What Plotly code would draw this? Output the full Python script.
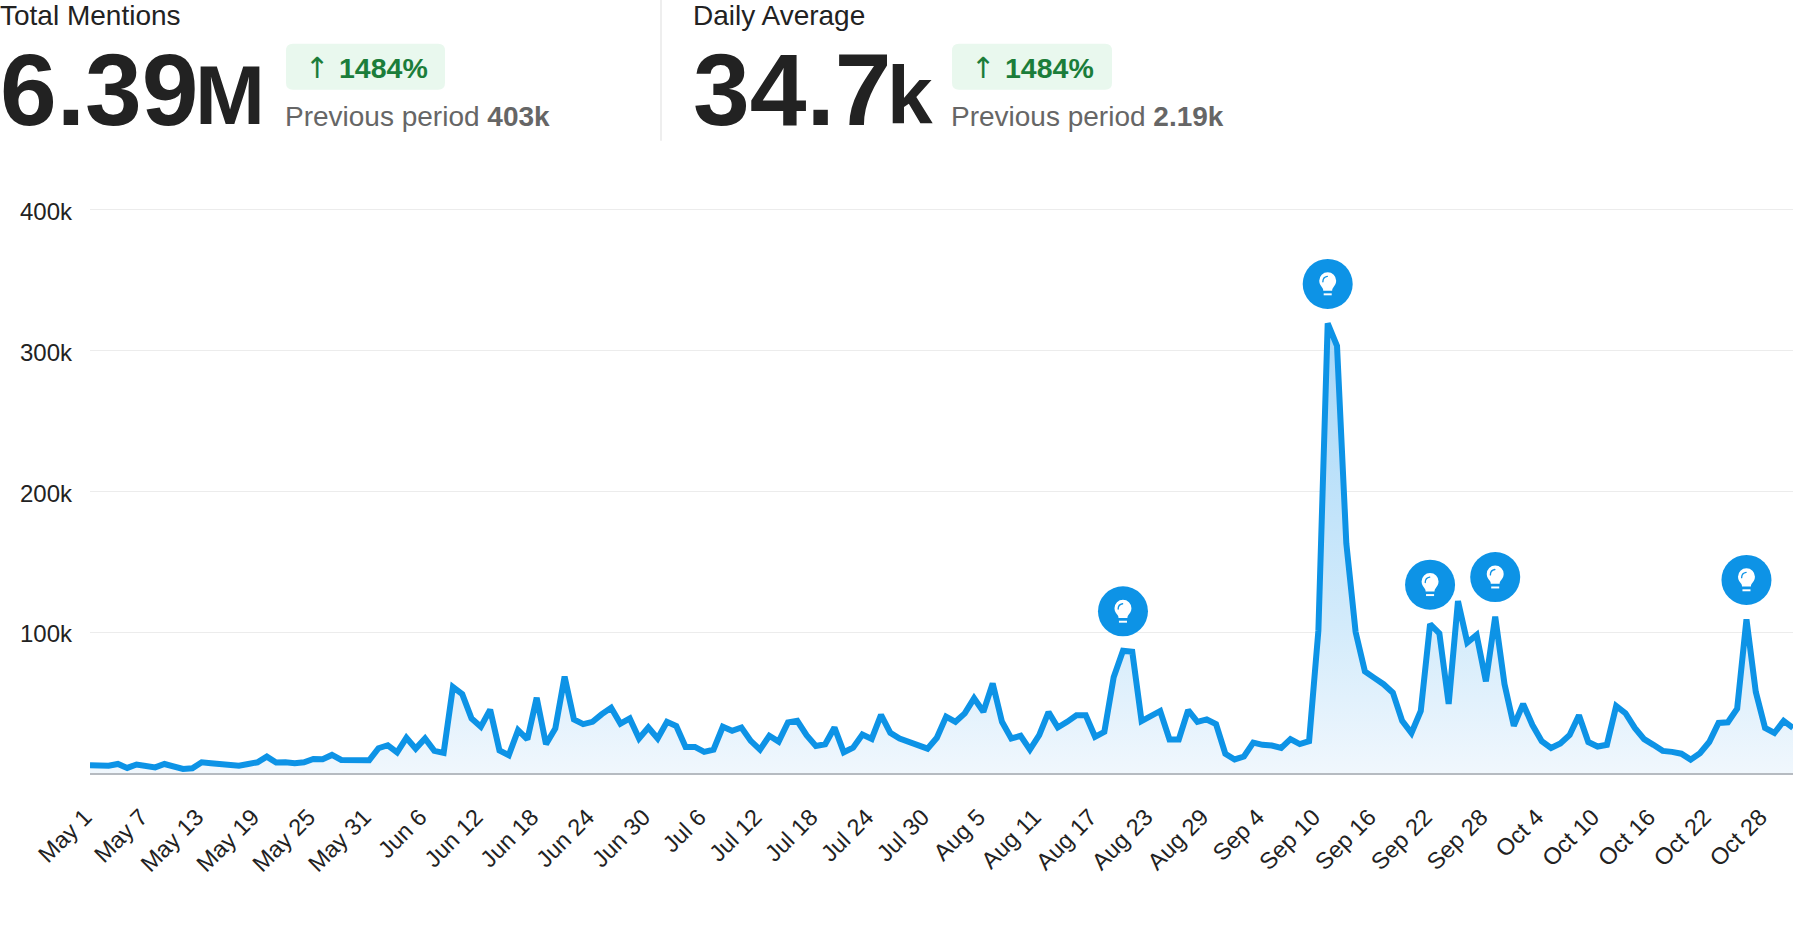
import base64
import pandas as pd
import plotly.graph_objects as go

W, H = 1812, 936
Y_TOP = 408000
L, R, B = 90, 1793, 773
T = B - 140.9 * Y_TOP / 100000

start_date = "2023-05-01"
mentions_k = [
    5.5, 5.5, 5.2, 6.4, 3.6, 6, 4.7, 4, 6.4, 5, 2.9, 3.3, 7.6, 6.9, 6.4, 5, 5.2, 6.4, 7.6, 11.6,
    7.4, 7.6, 6.9, 7.6, 10, 9.7, 12.8, 9.3, 9.5, 9.3, 9, 17.6, 19.7, 14.7, 25, 17.3, 24.5, 15.7, 14.3, 61,
    56, 38.7, 32.8, 45, 16, 12.6, 30.4, 23.8, 53.4, 20.4, 31.6, 68.4, 38, 34.7, 36.3, 41.8, 46.3, 35, 38.7, 24.5,
    32.3, 24.5, 36.3, 33.3, 18.5, 18.5, 15, 16.6, 32.8, 30, 32.3, 22.8, 16.6, 26.4, 22.3, 35.9, 37, 26.8, 19.2, 20.4,
    32.3, 14.7, 18, 27.3, 24.2, 41.3, 28.5, 24.5, 22.3, 20, 17.3, 25, 40, 36.3, 42.3, 53, 43.5, 63.6, 36.3, 24.5,
    26.4, 16.6, 26.8, 43.2, 32.3, 36.3, 41, 41, 25.7, 29.2, 68, 86.7, 86, 36.8, 40, 44, 23.8, 23.8, 44.6, 36.3,
    38, 34.7, 13.7, 9.6, 11.7, 21.6, 20, 19.5, 17.8, 24, 20.5, 22.6, 101, 319, 303, 163, 100, 72, 67.5, 63,
    57, 37, 28.4, 44, 105.6, 99, 49, 122, 92.6, 98, 65, 111, 63, 33.5, 49, 34, 22.6, 17.8, 21, 27,
    41, 22, 18.8, 20, 47.5, 42.4, 32, 24, 20, 15.7, 15, 13.7, 9.5, 14, 22, 35.5, 36, 45.7, 109, 57.6,
    32, 28.4, 37, 32,
]
tick_labels = [
    "May 1", "May 7", "May 13", "May 19", "May 25", "May 31", "Jun 6", "Jun 12", "Jun 18", "Jun 24", "Jun 30",
    "Jul 6", "Jul 12", "Jul 18", "Jul 24", "Jul 30", "Aug 5", "Aug 11", "Aug 17", "Aug 23", "Aug 29",
    "Sep 4", "Sep 10", "Sep 16", "Sep 22", "Sep 28", "Oct 4", "Oct 10", "Oct 16", "Oct 22", "Oct 28",
]
y_ticks = [100000, 200000, 300000, 400000]
y_labels = ["100k", "200k", "300k", "400k"]
event_days = ["Aug 20", "Sep 11", "Sep 22", "Sep 29", "Oct 26"]

dates = pd.date_range(start_date, periods=len(mentions_k), freq="D")
values = [v * 1000 for v in mentions_k]
to_date = lambda s: pd.to_datetime(s + " 2023", format="%b %d %Y")
tick_dates = [to_date(s) for s in tick_labels]
event_dates = [to_date(s) for s in event_days]
by_date = dict(zip(dates, values))
EVENT_LIFT = 28000
event_y = [by_date[d] + EVENT_LIFT for d in event_dates]

BLUE = "#0d93e6"
fig = go.Figure()
fig.add_trace(go.Scatter(
    x=dates, y=values, mode="lines", line=dict(color=BLUE, width=6, shape="linear"),
    fill="tozeroy",
    fillgradient=dict(type="vertical", start=0, stop=320000,
                      colorscale=[[0, "#f0f7fd"], [0.33, "#d3ebfb"], [1, "#a5d7f8"]]),
    hoverinfo="skip", showlegend=False,
))
fig.add_trace(go.Scatter(
    x=event_dates, y=event_y, mode="markers",
    marker=dict(color=BLUE, size=50, line=dict(width=0)),
    hoverinfo="skip", showlegend=False, cliponaxis=False,
))

bulb = """<svg xmlns='http://www.w3.org/2000/svg' viewBox='0 0 24 28'>
<path d='M12 1a9.5 9.5 0 0 0-9.5 9.5c0 3.6 2 5.7 3.4 7.6.9 1.2 1.1 2.4 1.1 3.4h10c0-1 .2-2.2 1.1-3.4 1.4-1.9 3.4-4 3.4-7.6A9.5 9.5 0 0 0 12 1z' fill='white'/>
<path d='M6.6 11.5c0-3.4 2.2-5.6 5-6' fill='none' stroke='#0d93e6' stroke-width='1.5' stroke-linecap='round'/>
<rect x='7.5' y='24.5' width='9' height='2.2' fill='white'/></svg>"""
uri = "data:image/svg+xml;base64," + base64.b64encode(bulb.encode()).decode()
px_day = (R - L) / (len(values) - 1)
px_val = (B - T) / Y_TOP
for d, y in zip(event_dates, event_y):
    fig.add_layout_image(dict(
        source=uri, xref="x", yref="y", x=d, y=y, xanchor="center", yanchor="middle",
        sizex=22 / px_day * 86400000, sizey=25 / px_val, sizing="contain", layer="above",
    ))

def px(x): return (x - L) / (R - L)
def py(y): return (B - y) / (B - T)

def text(x, y, s, size, color="#222222", weight=None, family="Liberation Sans"):
    if weight == "bold":
        s = f"<b>{s}</b>"
    fig.add_annotation(
        xref="paper", yref="paper", x=px(x), y=py(y), text=s, showarrow=False,
        xanchor="left", yanchor="middle",
        font=dict(size=size, color=color, family=family), align="left",
        borderpad=0, borderwidth=0,
    )

def badge(x0, x1, y0=44, y1=90, r=7):
    path = (f"M {px(x0 + r)} {py(y0)} L {px(x1 - r)} {py(y0)} Q {px(x1)} {py(y0)} {px(x1)} {py(y0 + r)} "
            f"L {px(x1)} {py(y1 - r)} Q {px(x1)} {py(y1)} {px(x1 - r)} {py(y1)} "
            f"L {px(x0 + r)} {py(y1)} Q {px(x0)} {py(y1)} {px(x0)} {py(y1 - r)} "
            f"L {px(x0)} {py(y0 + r)} Q {px(x0)} {py(y0)} {px(x0 + r)} {py(y0)} Z")
    fig.add_shape(type="path", xref="paper", yref="paper", path=path,
                  fillcolor="#e9f8ee", line=dict(width=0), layer="below")

GREEN = "#1b7d3a"
GRAY = "#666666"

fig.add_shape(type="line", xref="paper", yref="paper", x0=px(661), x1=px(661), y0=py(0), y1=py(141),
              line=dict(color="#e8e8e8", width=1.5))
badge(286, 445)
badge(952, 1112)

text(0, 16, "Total Mentions", 28)
text(0, 90, "6.39", 102, weight="bold")
text(195, 95, "M", 84, weight="bold")
text(305, 68, "↑", 29, GREEN, family="DejaVu Sans")
text(339, 68, "<b>1484%</b>", 28.5, GREEN)
text(285, 117, "Previous period <b>403k</b>", 28, GRAY)

text(693, 16, "Daily Average", 28)
text(693, 90, "34.7", 102, weight="bold")
text(887, 95, "k", 82, weight="bold")
text(971, 68, "↑", 29, GREEN, family="DejaVu Sans")
text(1005, 68, "<b>1484%</b>", 28.5, GREEN)
text(951, 117, "Previous period <b>2.19k</b>", 28, GRAY)

fig.update_layout(
    width=W, height=H, autosize=False,
    margin=dict(l=L, r=W - R, t=T, b=H - B, pad=0),
    paper_bgcolor="white", plot_bgcolor="white",
    font=dict(family="Liberation Sans", color="#222222"),
    showlegend=False,
    xaxis=dict(
        type="date", range=[dates[0], dates[-1]], tickmode="array",
        tickvals=tick_dates, ticktext=tick_labels, tickangle=-45,
        tickfont=dict(size=23.5, color="#222222"), showgrid=False, zeroline=False,
        showline=True, linecolor="#b6bbc1", linewidth=2, ticks="", ticklabelstandoff=19,
        ticklabelshift=-5,
    ),
    yaxis=dict(
        range=[0, Y_TOP], tickmode="array", tickvals=y_ticks, ticktext=y_labels,
        tickfont=dict(size=24, color="#222222"), showgrid=True, gridcolor="#ececec", gridwidth=1,
        zeroline=False, showline=False, ticks="", ticklabelstandoff=17, ticklabelshift=2,
    ),
)
fig.write_html("out.html", config={"displayModeBar": False},
               post_script="document.body.style.margin='0';")
